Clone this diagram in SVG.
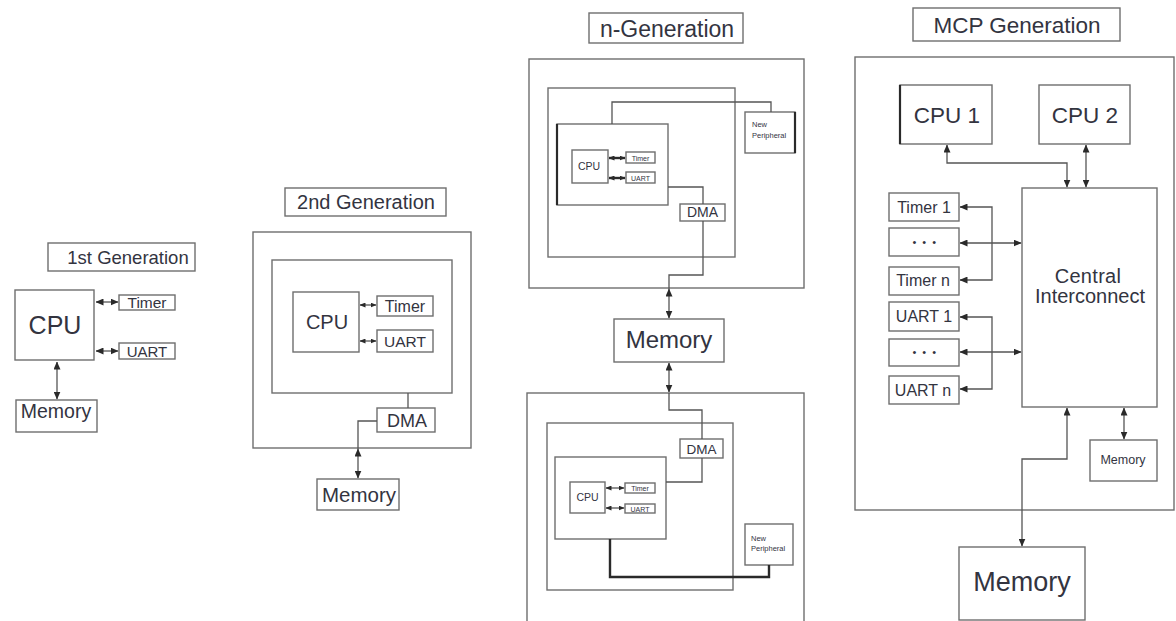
<svg xmlns="http://www.w3.org/2000/svg" width="1176" height="621" viewBox="0 0 1176 621">
  <style>
    .box { fill: #ffffff; stroke: #6e6e6e; stroke-width: 1.4; }
    .frame { fill: none; stroke: #6e6e6e; stroke-width: 1.4; }
    .edge { fill: none; stroke: #2a2a2a; stroke-width: 2.2; }
    .wire { fill: none; stroke: #555555; stroke-width: 1.3; }
    .thick { fill: none; stroke: #2a2a2a; stroke-width: 2.4; }
    .arr { marker-start: url(#head); marker-end: url(#head); }
    .arr-s { marker-start: url(#headS); marker-end: url(#headS); }
    .dots { fill: #33343f; }
    text { font-family: "Liberation Sans", Arial, sans-serif; fill: #33343f; text-anchor: middle; }
  </style>
  <defs>
    <marker id="head" markerUnits="userSpaceOnUse" markerWidth="8" markerHeight="7" refX="7.5" refY="3.5" orient="auto-start-reverse">
      <path d="M0,0 L8,3.5 L0,7 z" fill="#2a2a2a"/>
    </marker>
    <marker id="headS" markerUnits="userSpaceOnUse" markerWidth="6" markerHeight="5" refX="5.5" refY="2.5" orient="auto-start-reverse">
      <path d="M0,0 L6,2.5 L0,5 z" fill="#2a2a2a"/>
    </marker>
  </defs>

  <!-- ===== 1st Generation ===== -->
  <g id="g1-title"><rect class="box" x="48" y="243" width="147" height="28"/><text x="128" y="264" font-size="18.5">1st Generation</text></g>
  <g id="g1-cpu"><rect class="box" x="15" y="290" width="79" height="70"/><text x="55" y="334" font-size="25">CPU</text></g>
  <g id="g1-timer"><rect class="box" x="119" y="295" width="56" height="15"/><text x="147" y="308" font-size="15.5">Timer</text></g>
  <g id="g1-uart"><rect class="box" x="119" y="343" width="56" height="16"/><text x="147" y="357" font-size="15">UART</text></g>
  <g id="g1-memory"><rect class="box" x="16" y="400" width="81" height="32"/><text x="56" y="418" font-size="19.5">Memory</text></g>

  <!-- ===== 2nd Generation ===== -->
  <g id="g2-title"><rect class="box" x="285" y="188" width="161" height="28"/><text x="366" y="209" font-size="20">2nd Generation</text></g>
  <g id="g2-chip"><rect class="frame" x="253" y="232" width="218" height="216"/></g>
  <g id="g2-core"><rect class="frame" x="272" y="260" width="180" height="133"/></g>
  <g id="g2-cpu"><rect class="box" x="293" y="292" width="66" height="60"/><text x="327" y="329" font-size="20">CPU</text></g>
  <g id="g2-timer"><rect class="box" x="377" y="296" width="56" height="20"/><text x="405" y="312" font-size="16">Timer</text></g>
  <g id="g2-uart"><rect class="box" x="377" y="330" width="56" height="22"/><text x="405" y="347" font-size="15.5">UART</text></g>
  <g id="g2-dma"><rect class="box" x="377" y="408" width="58" height="24"/><text x="407" y="427" font-size="18">DMA</text></g>
  <g id="g2-memory"><rect class="box" x="317" y="479" width="82" height="31"/><text x="359" y="502" font-size="20.5">Memory</text></g>

  <!-- ===== n-Generation ===== -->
  <g id="gn-title"><rect class="box" x="589" y="13" width="154" height="30"/><text x="667" y="37" font-size="23">n-Generation</text></g>
  <g id="gn-chip-a"><rect class="frame" x="529" y="59" width="275" height="229"/></g>
  <g id="gn-core-a"><rect class="frame" x="548" y="88" width="187" height="169"/></g>
  <g id="gn-sub-a"><rect class="frame" x="557" y="124" width="111" height="81"/><line class="edge" x1="557" y1="124" x2="557" y2="205"/></g>
  <g id="gn-cpu-a"><rect class="box" x="572" y="150" width="36" height="33"/><text x="589" y="170" font-size="10.5">CPU</text></g>
  <g id="gn-timer-a"><rect class="box" x="626" y="152" width="29" height="11"/><text x="640.5" y="160.5" font-size="7">Timer</text></g>
  <g id="gn-uart-a"><rect class="box" x="626" y="172" width="29" height="11"/><text x="640.5" y="180.5" font-size="7">UART</text></g>
  <g id="gn-np-a"><rect class="box" x="745" y="112" width="50" height="41"/><line class="edge" x1="795" y1="112" x2="795" y2="153"/><text x="752" y="127" font-size="7.5" style="text-anchor:start">New</text><text x="752" y="138" font-size="7.5" style="text-anchor:start">Peripheral</text></g>
  <g id="gn-dma-a"><rect class="box" x="680" y="204" width="45" height="17"/><text x="702.5" y="217" font-size="14">DMA</text></g>

  <g id="gn-memory"><rect class="box" x="614" y="319" width="110" height="43"/><text x="669" y="348" font-size="24">Memory</text></g>

  <g id="gn-chip-b"><rect class="frame" x="527" y="393" width="277" height="240"/></g>
  <g id="gn-core-b"><rect class="frame" x="547" y="423" width="186" height="167"/></g>
  <g id="gn-sub-b"><rect class="frame" x="555" y="457" width="111" height="82"/></g>
  <g id="gn-cpu-b"><rect class="box" x="570" y="482" width="35" height="31"/><text x="587.5" y="501" font-size="10.5">CPU</text></g>
  <g id="gn-timer-b"><rect class="box" x="625" y="483" width="30" height="10"/><text x="640" y="491" font-size="7">Timer</text></g>
  <g id="gn-uart-b"><rect class="box" x="625" y="504" width="30" height="9"/><text x="640" y="511.5" font-size="7">UART</text></g>
  <g id="gn-dma-b"><rect class="box" x="680" y="439" width="43" height="19"/><text x="701.5" y="453.5" font-size="13.5">DMA</text></g>
  <g id="gn-np-b"><rect class="box" x="745" y="524" width="48" height="41"/><text x="751" y="541" font-size="7.5" style="text-anchor:start">New</text><text x="751" y="551" font-size="7.5" style="text-anchor:start">Peripheral</text></g>

  <!-- ===== MCP Generation ===== -->
  <g id="mcp-title"><rect class="box" x="913" y="8" width="207" height="33"/><text x="1017" y="33" font-size="22.5">MCP Generation</text></g>
  <g id="mcp-chip"><rect class="frame" x="855" y="57" width="319" height="453"/></g>
  <g id="mcp-cpu1"><rect class="box" x="900" y="85" width="92" height="59"/><line class="edge" x1="900" y1="85" x2="900" y2="144"/><text x="947" y="123" font-size="22.5">CPU 1</text></g>
  <g id="mcp-cpu2"><rect class="box" x="1039" y="85" width="91" height="59"/><text x="1085" y="123" font-size="22.5">CPU 2</text></g>
  <g id="mcp-interconnect"><rect class="box" x="1022" y="188" width="135" height="219"/><text x="1088" y="283" font-size="20" letter-spacing="0.3">Central</text><text x="1090" y="303" font-size="20">Interconnect</text></g>
  <g id="mcp-timer1"><rect class="box" x="889" y="193" width="70" height="28"/><text x="924" y="213" font-size="16">Timer 1</text></g>
  <g id="mcp-timer-more"><rect class="box" x="889" y="228" width="70" height="28"/><text x="925" y="246" font-size="11" letter-spacing="1.5">• • •</text></g>
  <g id="mcp-timern"><rect class="box" x="889" y="267" width="70" height="28"/><text x="923" y="286" font-size="16">Timer n</text></g>
  <g id="mcp-uart1"><rect class="box" x="889" y="302" width="70" height="29"/><text x="924" y="322" font-size="16">UART 1</text></g>
  <g id="mcp-uart-more"><rect class="box" x="889" y="339" width="70" height="27"/><text x="925" y="356" font-size="11" letter-spacing="1.5">• • •</text></g>
  <g id="mcp-uartn"><rect class="box" x="889" y="376" width="70" height="28"/><text x="923" y="396" font-size="16">UART n</text></g>
  <g id="mcp-local-memory"><rect class="box" x="1090" y="440" width="67" height="41"/><text x="1123" y="464" font-size="12.5">Memory</text></g>
  <g id="mcp-memory"><rect class="box" x="959" y="547" width="126" height="73"/><text x="1022" y="591" font-size="27">Memory</text></g>

  <!-- ===== Connectors ===== -->
  <g id="connectors">
    <!-- 1st Generation -->
    <path class="wire arr" d="M96,302 H118"/>
    <path class="wire arr" d="M96,351 H118"/>
    <path class="wire arr" d="M57,362 V399"/>

    <!-- 2nd Generation -->
    <path class="wire arr-s" d="M360,305 H376"/>
    <path class="wire arr-s" d="M360,341 H376"/>
    <path class="wire" d="M408,393 V408"/>
    <path class="wire" d="M377,421 H358 V449"/>
    <path class="wire arr" d="M358,449 V478"/>

    <!-- n-Generation, upper chip -->
    <path class="thick arr-s" d="M609,158 H625"/>
    <path class="thick arr-s" d="M609,178 H625"/>
    <path class="wire" d="M612,124 V102 H771 V112"/>
    <path class="wire" d="M668,187 H703 V204"/>
    <path class="wire" d="M703,221 V275 H669 V289"/>
    <path class="wire arr" d="M669,289 V318"/>

    <!-- n-Generation, lower chip -->
    <path class="wire arr" d="M669,363 V392"/>
    <path class="wire" d="M669,393 V410 H702 V439"/>
    <path class="wire" d="M666,482 H702 V458"/>
    <path class="wire arr-s" d="M606,488 H624"/>
    <path class="wire arr-s" d="M606,508 H624"/>
    <path class="thick" d="M610,539 V577 H769 V565"/>

    <!-- MCP Generation -->
    <path class="wire arr" d="M947,145 V163 H1067 V187"/>
    <path class="wire arr" d="M1086,145 V187"/>
    <path class="wire arr" d="M960,207 H992 V280 H960"/>
    <path class="wire arr" d="M960,243 H1021"/>
    <path class="wire arr" d="M960,317 H992 V389 H960"/>
    <path class="wire arr" d="M960,352 H1021"/>
    <path class="wire arr" d="M1124,408 V439"/>
    <path class="wire arr" d="M1067,408 V459 H1022 V546"/>
  </g>
</svg>
